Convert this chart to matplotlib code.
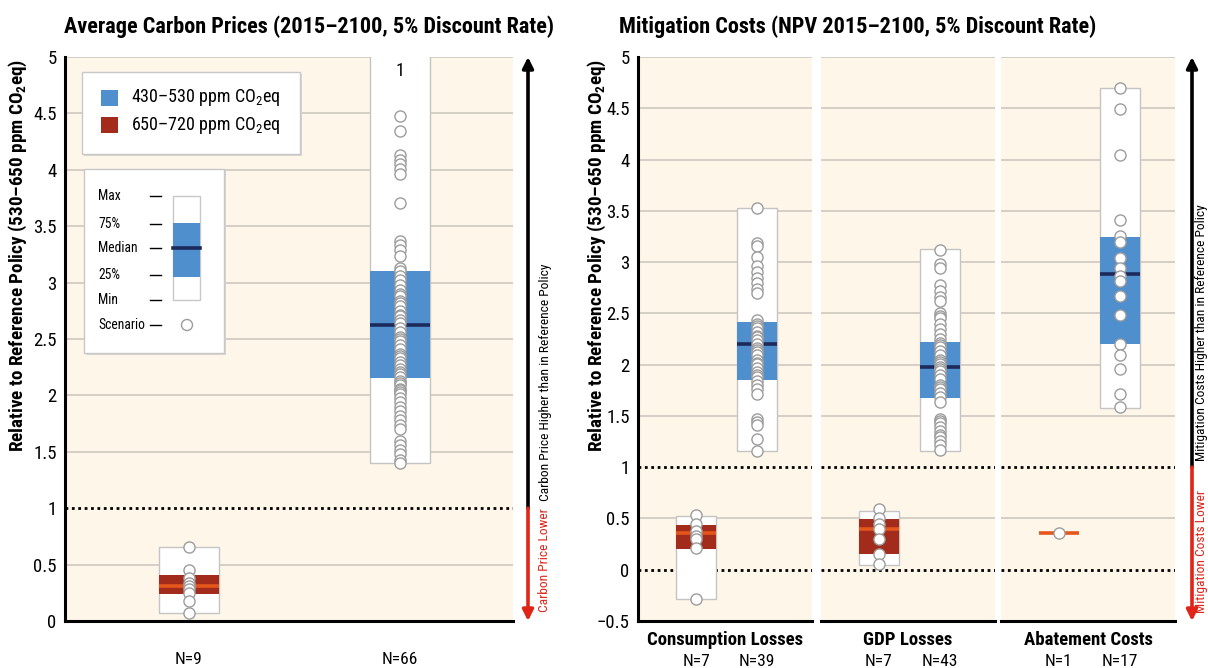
import matplotlib

matplotlib.use("Agg")

import matplotlib.pyplot as plt
import numpy as np
from matplotlib import font_manager
from matplotlib.patches import Rectangle, Circle
from matplotlib.transforms import blended_transform_factory

names = {f.name for f in font_manager.fontManager.ttflist}
BASE = next(n for n in ["Liberation Sans Narrow", "Roboto Condensed", "Open Sans Condensed",
                        "Open Sans", "DejaVu Sans"] if n in names)
plt.rcParams["font.family"] = [BASE, "DejaVu Sans"]
plt.rcParams["mathtext.fontset"] = "custom"
plt.rcParams["mathtext.rm"] = BASE
plt.rcParams["mathtext.bf"] = BASE + ":bold"
plt.rcParams["mathtext.default"] = "regular"

# ---- data: left panel, average carbon prices relative to reference policy ----
cp_labels = ["650–720", "430–530"]
cp_low_stats = [0.07, 0.24, 0.31, 0.41, 0.66]          # min, 25%, median, 75%, max
cp_low_points = [0.66, 0.45, 0.38, 0.34, 0.31, 0.28, 0.25, 0.18, 0.07]
cp_high_stats = [1.40, 2.15, 2.62, 3.10, 5.60]
cp_high_points = [
    5.60, 4.48, 4.34, 4.13, 4.09, 4.05, 4.01, 3.96, 3.71, 3.37, 3.33, 3.29, 3.24,
    3.13, 3.10, 3.06, 3.02, 2.98, 2.93, 2.90, 2.88, 2.84, 2.82, 2.79, 2.75, 2.71,
    2.70, 2.67, 2.64, 2.60, 2.56, 2.52, 2.50, 2.48, 2.45, 2.41, 2.37, 2.35, 2.33,
    2.30, 2.27, 2.23, 2.21, 2.19, 2.16, 2.13, 2.11, 2.09, 2.06, 2.05, 2.03, 2.01,
    1.98, 1.94, 1.90, 1.86, 1.82, 1.78, 1.74, 1.70, 1.60, 1.56, 1.52, 1.48, 1.43, 1.40,
]

# ---- data: right panel, mitigation costs relative to reference policy ----
cost_categories = ["Consumption Losses", "GDP Losses", "Abatement Costs"]
cons_low_stats = [-0.29, 0.20, 0.36, 0.44, 0.52]
cons_low_points = [0.53, 0.45, 0.38, 0.33, 0.30, 0.21, -0.29]
cons_high_stats = [1.16, 1.85, 2.20, 2.42, 3.53]
cons_high_points = [
    3.53, 3.19, 3.16, 3.05, 2.96, 2.90, 2.84, 2.80, 2.74, 2.70, 2.44, 2.40, 2.38,
    2.36, 2.32, 2.28, 2.27, 2.24, 2.20, 2.16, 2.14, 2.12, 2.09, 2.05, 2.02, 2.01,
    1.97, 1.93, 1.90, 1.88, 1.84, 1.80, 1.76, 1.71, 1.47, 1.44, 1.41, 1.27, 1.16,
]
gdp_low_stats = [0.05, 0.15, 0.40, 0.49, 0.57]
gdp_low_points = [0.59, 0.50, 0.45, 0.40, 0.30, 0.15, 0.06]
gdp_high_stats = [1.16, 1.67, 1.98, 2.22, 3.13]
gdp_high_points = [
    3.12, 2.98, 2.94, 2.78, 2.72, 2.66, 2.62, 2.50, 2.47, 2.45, 2.40, 2.35, 2.30,
    2.25, 2.21, 2.19, 2.17, 2.13, 2.09, 2.05, 2.03, 2.01, 1.98, 1.96, 1.94, 1.90,
    1.86, 1.80, 1.78, 1.76, 1.72, 1.68, 1.64, 1.47, 1.45, 1.43, 1.39, 1.35, 1.31,
    1.29, 1.26, 1.22, 1.17,
]
abate_low_stats = [0.36, 0.36, 0.36, 0.36, 0.36]
abate_low_points = [0.36]
abate_high_stats = [1.58, 2.20, 2.88, 3.24, 4.70]
abate_high_points = [
    4.70, 4.49, 4.04, 3.41, 3.25, 3.20, 3.04, 2.94, 2.86, 2.82, 2.67, 2.48, 2.20,
    2.09, 1.96, 1.71, 1.59,
]

BLUE = "#4f8fcd"
RED = "#a22b1b"
NAVY = "#1b2a5b"
ORANGE = "#e4561b"
CREAM = "#fef6e9"
GRID = "#cdc8c0"
EDGE = "#c4c4c4"
PT_EDGE = "#9c9c9c"
ARROW_RED = "#e02418"

W, H = 1208, 668
fig = plt.figure(figsize=(W / 100, H / 100), dpi=100)


def px_rect(left, right, top, bottom):
    return [left / W, 1 - bottom / H, (right - left) / W, (bottom - top) / H]


def tick_fmt(v):
    return f"{v:g}".replace("-", "−")


def draw_box(ax, x, stats, points, band, median_color, width, ymax):
    lo, q1, med, q3, hi = stats
    if hi > lo:
        ax.bar(x, hi - lo, width, bottom=lo, color="white", edgecolor=EDGE, linewidth=1, zorder=3)
        ax.bar(x, q3 - q1, width, bottom=q1, color=band, linewidth=0, zorder=4)
        ax.hlines(med, x - width / 2, x + width / 2, color=median_color, linewidth=2.6, zorder=5)
    else:
        ax.hlines(med, x - width / 2, x + width / 2, color=ORANGE, linewidth=2.6, zorder=5)
    pts = np.asarray(points)
    ax.scatter(np.full(len(pts), x), pts, s=64, facecolor="white", edgecolor=PT_EDGE,
               linewidth=1, zorder=6)
    above = int((pts > ymax).sum())
    if above:
        ax.text(x, ymax - 0.12, str(above), ha="center", va="center", fontsize=13, zorder=7)


def style_axis(ax, ymin, ymax, grid_vals, dotted_vals, show_left=True):
    ax.set_facecolor(CREAM)
    ax.set_ylim(ymin, ymax)
    for v in grid_vals:
        ax.axhline(v, color=GRID, linewidth=1.2, zorder=1)
    for v in dotted_vals:
        ax.axhline(v, color="black", linewidth=2, linestyle=(0, (1, 1.3)), zorder=2)
    for side in ["top", "right"]:
        ax.spines[side].set_visible(False)
    ax.spines["bottom"].set_linewidth(2.2)
    ax.spines["left"].set_linewidth(2.2)
    ax.spines["left"].set_visible(show_left)
    ax.set_xticks([])
    ax.tick_params(axis="y", length=0, labelsize=13.5, pad=6)
    if not show_left:
        ax.set_yticks([])


# ---------------- left panel ----------------
ax_l = fig.add_axes(px_rect(65, 513, 57, 621))
left_ticks = np.arange(0, 5.01, 0.5)
style_axis(ax_l, 0, 5, [v for v in left_ticks if v not in (0, 1)], [1])
ax_l.set_yticks(left_ticks)
ax_l.set_yticklabels([tick_fmt(v) for v in left_ticks])
ax_l.set_xlim(-0.589, 1.539)
draw_box(ax_l, 0, cp_low_stats, cp_low_points, RED, ORANGE, 0.285, 5)
draw_box(ax_l, 1, cp_high_stats, cp_high_points, BLUE, NAVY, 0.285, 5)
trans_l = blended_transform_factory(ax_l.transData, ax_l.transAxes)
for x, pts in zip([0, 1], [cp_low_points, cp_high_points]):
    ax_l.text(x, -0.068, f"N={len(pts)}", transform=trans_l, ha="center", va="center", fontsize=12.5)

# ---------------- right panels ----------------
right_ticks = np.arange(-0.5, 5.01, 0.5)
groups = [
    (cons_low_stats, cons_low_points, cons_high_stats, cons_high_points),
    (gdp_low_stats, gdp_low_points, gdp_high_stats, gdp_high_points),
    (abate_low_stats, abate_low_points, abate_high_stats, abate_high_points),
]
lefts = [638, 821, 1001]
right_axes = []
for i, (name, left, grp) in enumerate(zip(cost_categories, lefts, groups)):
    ax = fig.add_axes(px_rect(left, left + 174, 57, 621))
    style_axis(ax, -0.5, 5, [v for v in right_ticks if v not in (-0.5, 0, 1)], [0, 1], show_left=(i == 0))
    if i == 0:
        ax.set_yticks(right_ticks)
        ax.set_yticklabels([tick_fmt(v) for v in right_ticks])
    ax.set_xlim(-0.95, 1.9)
    lo_s, lo_p, hi_s, hi_p = grp
    draw_box(ax, 0, lo_s, lo_p, RED, ORANGE, 0.66, 5)
    draw_box(ax, 1, hi_s, hi_p, BLUE, NAVY, 0.66, 5)
    tr = blended_transform_factory(ax.transAxes, ax.transAxes)
    ax.text(0.5, -0.033, name, transform=tr, ha="center", va="center", fontsize=13.5, fontweight="bold")
    trn = blended_transform_factory(ax.transData, ax.transAxes)
    for x, pts in zip([0, 1], [lo_p, hi_p]):
        ax.text(x, -0.071, f"N={len(pts)}", transform=trn, ha="center", va="center", fontsize=12.5)
    right_axes.append(ax)


# ---------------- arrows beside the panels ----------------
def side_arrow(ax, xfrac, text_x, split, ymin, ymax, up_text, down_text):
    tr = blended_transform_factory(ax.transAxes, ax.transData)
    ax.annotate("", xy=(xfrac, ymax), xytext=(xfrac, split), xycoords=tr, textcoords=tr,
                arrowprops=dict(arrowstyle="-|>", color="black", lw=2.6, mutation_scale=16,
                                shrinkA=0, shrinkB=0), annotation_clip=False)
    ax.annotate("", xy=(xfrac, ymin), xytext=(xfrac, split), xycoords=tr, textcoords=tr,
                arrowprops=dict(arrowstyle="-|>", color=ARROW_RED, lw=2.6, mutation_scale=16,
                                shrinkA=0, shrinkB=0), annotation_clip=False)
    ax.text(text_x, split + 0.06, up_text, transform=tr, rotation=90, ha="center", va="bottom",
            fontsize=9.7, clip_on=False)
    ax.text(text_x, ymin + 0.08, down_text, transform=tr, rotation=90, ha="center", va="bottom",
            fontsize=9.7, color=ARROW_RED, clip_on=False)


side_arrow(ax_l, (528 - 65) / 448, (545 - 65) / 448, 1, 0, 5,
           "Carbon Price Higher than in Reference Policy", "Carbon Price Lower")
side_arrow(right_axes[-1], (1192 - 1001) / 174, (1201.5 - 1001) / 174, 1, -0.5, 5,
           "Mitigation Costs Higher than in Reference Policy", "Mitigation Costs Lower")

# ---------------- titles and axis labels ----------------
fig.text(309 / W, 1 - 27 / H, "Average Carbon Prices (2015–2100, 5% Discount Rate)",
         ha="center", va="center", fontsize=16, fontweight="bold")
fig.text(858 / W, 1 - 27 / H, "Mitigation Costs (NPV 2015–2100, 5% Discount Rate)",
         ha="center", va="center", fontsize=16, fontweight="bold")
ylab = r"Relative to Reference Policy (530–650 ppm CO$_\mathbf{2}$eq)"
for xp in (18, 597):
    fig.text(xp / W, 1 - 256 / H, ylab, rotation=90, ha="center", va="center",
             fontsize=13.8, fontweight="bold")

# ---------------- legends (overlay in pixel coordinates) ----------------
ov = fig.add_axes([0, 0, 1, 1])
ov.set_xlim(0, W)
ov.set_ylim(H, 0)
ov.axis("off")

for (l, r, t, b) in [(82, 300, 72, 154), (84, 224, 169, 353)]:
    ov.add_patch(Rectangle((l + 2, t + 2), r - l, b - t, facecolor="#d9d6d0", edgecolor="none"))
    ov.add_patch(Rectangle((l, t), r - l, b - t, facecolor="white", edgecolor="#c8c8c8", linewidth=1))

for yc, color, label in [(98, BLUE, "430–530 ppm CO$_2$eq"), (125, RED, "650–720 ppm CO$_2$eq")]:
    ov.add_patch(Rectangle((101, yc - 8), 17, 16, facecolor=color, edgecolor="none"))
    ov.text(131, yc, label, ha="left", va="center", fontsize=13)

key_rows = [("Max", 196), ("75%", 224), ("Median", 248), ("25%", 275), ("Min", 300), ("Scenario", 325)]
for label, yc in key_rows:
    ov.text(98, yc, label, ha="left", va="center", fontsize=9.8)
    ov.plot([150, 161], [yc, yc], color="black", linewidth=1)
ov.add_patch(Rectangle((173, 196), 27, 104, facecolor="white", edgecolor="#c8c8c8", linewidth=1))
ov.add_patch(Rectangle((173, 223), 27, 54, facecolor=BLUE, edgecolor="none"))
ov.plot([173, 200], [248, 248], color=NAVY, linewidth=2.6)
ov.add_patch(Circle((187, 325), 5.5, facecolor="white", edgecolor=PT_EDGE, linewidth=1))

fig.savefig("out.png", dpi=100)
plt.close(fig)
